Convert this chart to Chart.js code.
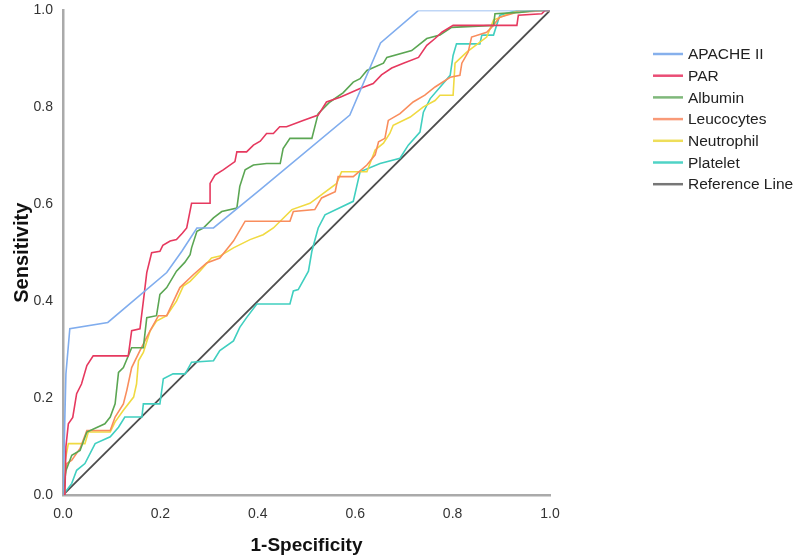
<!DOCTYPE html>
<html>
<head>
<meta charset="utf-8">
<script src="https://cdn.jsdelivr.net/npm/chart.js@4/dist/chart.umd.min.js"></script>
<style>
  html, body { margin: 0; padding: 0; background: #fff; }
  #wrap { width: 797px; height: 559px; }
</style>
</head>
<body>
<div id="wrap"><canvas id="roc"></canvas></div>
<script>
// curvas ROC (x = 1-especificidad, y = sensibilidad)
const nombres = ["APACHE II", "PAR", "Albumin", "Leucocytes", "Neutrophil", "Platelet", "Reference Line"];
const colores = ["#80adee", "#e6395f", "#5ba653", "#f98d5d", "#f0da42", "#40cfc0", "#4d4d4d"];
const coloresLeyenda = ["#86b0ec", "#ea4d75", "#7fb87a", "#f99a78", "#eede5a", "#4fd3c6", "#777777"];

const apacheX = [0, 0.006, 0.014, 0.092, 0.213, 0.244, 0.275, 0.309, 0.405, 0.589, 0.652, 0.730, 1];
const apacheY = [0, 0.25, 0.343, 0.356, 0.459, 0.503, 0.551, 0.551, 0.630, 0.784, 0.933, 1, 1];

const parX = [0, 0.004, 0.006, 0.011, 0.020, 0.028, 0.038, 0.049, 0.062, 0.134, 0.141, 0.158, 0.165, 0.172, 0.182, 0.199, 0.205, 0.220, 0.233, 0.245, 0.254, 0.264, 0.302, 0.302, 0.312, 0.329, 0.353, 0.357, 0.377, 0.391, 0.405, 0.418, 0.432, 0.445, 0.459, 0.493, 0.524, 0.541, 0.569, 0.610, 0.637, 0.654, 0.675, 0.699, 0.730, 0.747, 0.764, 0.778, 0.801, 0.932, 0.935, 0.983, 0.990, 1];
const parY = [0, 0, 0.100, 0.147, 0.160, 0.209, 0.229, 0.267, 0.287, 0.287, 0.339, 0.343, 0.400, 0.459, 0.500, 0.503, 0.515, 0.524, 0.527, 0.540, 0.551, 0.602, 0.602, 0.643, 0.660, 0.671, 0.688, 0.708, 0.708, 0.722, 0.730, 0.746, 0.746, 0.760, 0.760, 0.773, 0.784, 0.811, 0.821, 0.839, 0.849, 0.867, 0.881, 0.891, 0.903, 0.928, 0.942, 0.955, 0.969, 0.969, 0.990, 0.993, 1, 1];

const albX = [0, 0.006, 0.018, 0.035, 0.049, 0.086, 0.097, 0.107, 0.114, 0.124, 0.141, 0.165, 0.172, 0.192, 0.199, 0.213, 0.233, 0.250, 0.261, 0.264, 0.275, 0.288, 0.309, 0.326, 0.357, 0.363, 0.374, 0.391, 0.418, 0.446, 0.452, 0.466, 0.511, 0.524, 0.548, 0.575, 0.596, 0.610, 0.624, 0.658, 0.665, 0.716, 0.747, 0.774, 0.798, 0.884, 0.887, 0.938, 0.970, 1];
const albY = [0, 0.050, 0.082, 0.092, 0.130, 0.147, 0.161, 0.188, 0.253, 0.263, 0.304, 0.304, 0.366, 0.370, 0.414, 0.428, 0.462, 0.480, 0.496, 0.510, 0.544, 0.551, 0.572, 0.585, 0.592, 0.637, 0.671, 0.681, 0.684, 0.684, 0.715, 0.736, 0.736, 0.787, 0.811, 0.830, 0.852, 0.859, 0.876, 0.891, 0.903, 0.917, 0.942, 0.949, 0.965, 0.969, 0.993, 0.996, 1, 1];

const leuX = [0, 0.004, 0.008, 0.018, 0.035, 0.049, 0.097, 0.107, 0.124, 0.131, 0.141, 0.158, 0.179, 0.196, 0.213, 0.240, 0.268, 0.295, 0.322, 0.350, 0.374, 0.466, 0.473, 0.517, 0.531, 0.559, 0.565, 0.596, 0.624, 0.641, 0.648, 0.661, 0.668, 0.692, 0.719, 0.743, 0.764, 0.795, 0.815, 0.819, 0.832, 0.839, 0.870, 0.880, 0.897, 0.932, 0.993, 1];
const leuY = [0, 0.040, 0.065, 0.072, 0.096, 0.133, 0.133, 0.161, 0.188, 0.216, 0.263, 0.298, 0.339, 0.370, 0.370, 0.428, 0.455, 0.479, 0.489, 0.524, 0.565, 0.565, 0.585, 0.589, 0.613, 0.626, 0.657, 0.657, 0.681, 0.702, 0.729, 0.736, 0.773, 0.787, 0.811, 0.825, 0.842, 0.862, 0.866, 0.891, 0.914, 0.945, 0.955, 0.965, 0.986, 0.996, 1, 1];

const neuX = [0, 0.002, 0.011, 0.045, 0.052, 0.097, 0.107, 0.124, 0.145, 0.151, 0.155, 0.165, 0.179, 0.192, 0.213, 0.233, 0.247, 0.261, 0.281, 0.305, 0.322, 0.350, 0.384, 0.411, 0.432, 0.470, 0.507, 0.562, 0.572, 0.624, 0.641, 0.658, 0.671, 0.678, 0.713, 0.740, 0.764, 0.774, 0.801, 0.805, 0.829, 0.850, 0.870, 0.884, 0.915, 0.938, 1];
const neuY = [0, 0.058, 0.106, 0.106, 0.130, 0.130, 0.151, 0.175, 0.202, 0.229, 0.277, 0.294, 0.339, 0.359, 0.370, 0.400, 0.431, 0.441, 0.462, 0.489, 0.493, 0.510, 0.527, 0.537, 0.551, 0.589, 0.602, 0.643, 0.667, 0.667, 0.712, 0.726, 0.746, 0.763, 0.780, 0.801, 0.814, 0.825, 0.825, 0.891, 0.914, 0.930, 0.945, 0.980, 0.993, 1, 1];

const plaX = [0, 0.018, 0.028, 0.045, 0.066, 0.097, 0.114, 0.127, 0.162, 0.165, 0.199, 0.206, 0.226, 0.251, 0.264, 0.309, 0.322, 0.350, 0.363, 0.377, 0.398, 0.466, 0.473, 0.483, 0.504, 0.511, 0.524, 0.538, 0.596, 0.610, 0.651, 0.692, 0.709, 0.733, 0.740, 0.754, 0.778, 0.795, 0.801, 0.808, 0.856, 0.860, 0.884, 0.897, 0.935, 1];
const plaY = [0, 0.024, 0.051, 0.065, 0.106, 0.120, 0.140, 0.161, 0.161, 0.188, 0.188, 0.240, 0.250, 0.250, 0.274, 0.277, 0.298, 0.318, 0.346, 0.366, 0.394, 0.394, 0.421, 0.424, 0.462, 0.503, 0.551, 0.578, 0.606, 0.667, 0.684, 0.695, 0.722, 0.749, 0.790, 0.818, 0.846, 0.866, 0.907, 0.931, 0.931, 0.949, 0.949, 0.990, 1, 1];

const refX = [0, 1];
const refY = [0, 1];

const ticksEje = [0, 0.2, 0.4, 0.6, 0.8, 1.0];

function puntos(xs, ys) {
    return xs.map((x, i) => ({ x: x, y: ys[i] }));
}

const series = [
    puntos(apacheX, apacheY),
    puntos(parX, parY),
    puntos(albX, albY),
    puntos(leuX, leuY),
    puntos(neuX, neuY),
    puntos(plaX, plaY),
    puntos(refX, refY)
];

// leyenda dibujada a mano a la derecha
const leyenda = {
    id: "leyenda",
    afterDraw(chart) {
        const ctx = chart.ctx;
        ctx.save();
        ctx.font = "15.5px 'Liberation Sans', Arial, sans-serif";
        ctx.textBaseline = "middle";
        chart.data.datasets.forEach((ds, i) => {
            const y = 54 + i * 21.7;
            ctx.strokeStyle = coloresLeyenda[i];
            ctx.lineWidth = 2.5;
            ctx.beginPath();
            ctx.moveTo(653, y);
            ctx.lineTo(683, y);
            ctx.stroke();
            ctx.fillStyle = "#222";
            ctx.fillText(ds.label, 688, y + 1);
        });
        ctx.restore();
    }
};

const canva = document.getElementById("roc");

new Chart(canva, {
    type: "line",
    data: {
        datasets: series.map((d, i) => ({
            label: nombres[i],
            data: d,
            borderColor: colores[i],
            backgroundColor: colores[i],
            borderWidth: i === 6 ? 1.8 : 1.6,
            pointRadius: 0,
            tension: 0,
            fill: false
        }))
    },
    options: {
        responsive: true,
        maintainAspectRatio: false,
        animation: false,
        layout: { padding: { top: 0, right: 247, left: 0, bottom: 0 } },
        plugins: {
            legend: { display: false },
            tooltip: { enabled: false }
        },
        scales: {
            x: {
                type: "linear",
                min: 0,
                max: 1,
                afterFit: s => { s.height = 64; },
                afterBuildTicks: s => { s.ticks = ticksEje.map(v => ({ value: v })); },
                grid: { display: false },
                border: { display: true, color: "#aaaaaa", width: 2.5 },
                ticks: {
                    padding: 3,
                    color: "#333",
                    font: { family: "'Liberation Sans', Arial", size: 14 },
                    callback: v => v.toFixed(1)
                },
                title: {
                    display: true,
                    text: "1-Specificity",
                    color: "#111",
                    padding: { top: 0, bottom: 2 },
                    font: { family: "'Liberation Sans', Arial", size: 19, weight: "bold" }
                }
            },
            y: {
                type: "linear",
                min: 0,
                max: 1,
                afterFit: s => { s.width = 63; },
                afterBuildTicks: s => { s.ticks = ticksEje.map(v => ({ value: v })); },
                grid: { display: false },
                border: { display: true, color: "#aaaaaa", width: 2.5 },
                ticks: {
                    padding: 2,
                    color: "#333",
                    font: { family: "'Liberation Sans', Arial", size: 14 },
                    callback: v => v.toFixed(1)
                },
                title: {
                    display: true,
                    text: "Sensitivity",
                    color: "#111",
                    padding: { top: 10, bottom: 0 },
                    font: { family: "'Liberation Sans', Arial", size: 20, weight: "bold" }
                }
            }
        }
    },
    plugins: [leyenda]
});
</script>
</body>
</html>
